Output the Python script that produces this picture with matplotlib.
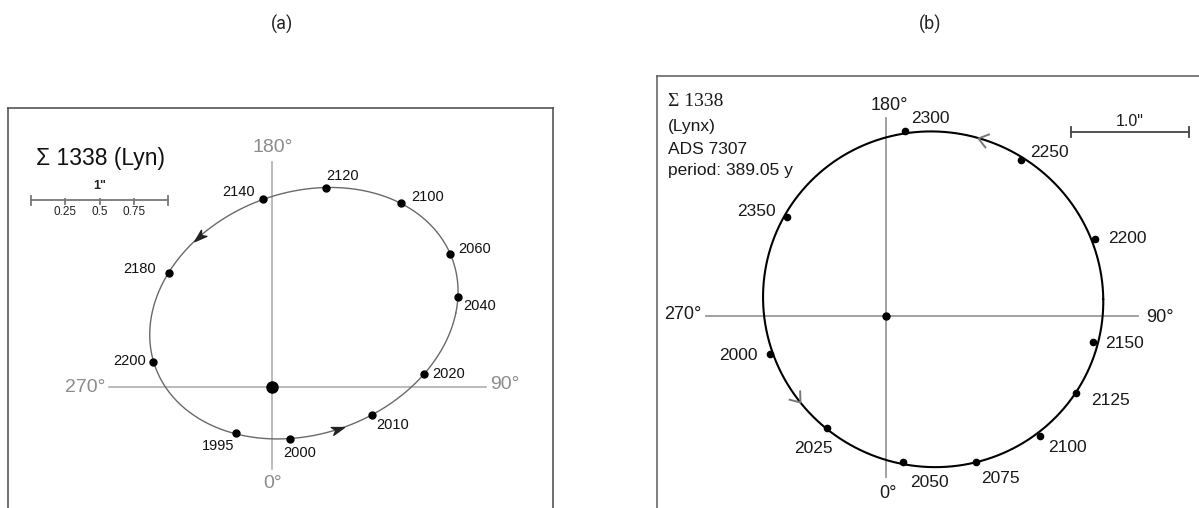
import numpy as np
import matplotlib
matplotlib.use("Agg")
import matplotlib.pyplot as plt
from matplotlib.path import Path
from matplotlib.markers import MarkerStyle
from matplotlib.transforms import Affine2D

# ---------------------------------------------------------------
# Relative positions of the companion (arcsec, +x = 90 deg side,
# +y = 180 deg side) at the labelled epochs.
# ---------------------------------------------------------------
years_a = [1995, 2000, 2010, 2020, 2040, 2060, 2100, 2120, 2140, 2180, 2200]
dx_a = [-0.263, 0.131, 0.730, 1.109, 1.358, 1.299, 0.942, 0.394, -0.066, -0.752, -0.869]
dy_a = [-0.336, -0.380, -0.204, 0.095, 0.657, 0.971, 1.343, 1.453, 1.372, 0.832, 0.182]

years_b = [2000, 2025, 2050, 2075, 2100, 2125, 2150, 2200, 2250, 2300, 2350]
dx_b = [-0.983, -0.500, 0.144, 0.763, 1.305, 1.610, 1.754, 1.771, 1.144, 0.161, -0.839]
dy_b = [-0.322, -0.949, -1.237, -1.237, -1.017, -0.653, -0.220, 0.653, 1.322, 1.568, 0.839]

angle_labels = ["180°", "0°", "270°", "90°"]
title_a = "Σ 1338 (Lyn)"
info_b = ["Σ 1338", "(Lynx)", "ADS 7307", "period: 389.05 y"]
scale_ticks_a = [0.25, 0.5, 0.75]

# label offsets (pixels) from each dot
off_a = [(-18, -13), (10, -14), (21, -10), (25, 0), (22, -9), (25, 5),
         (27, 6), (17, 12), (-24, 7), (-29, 4), (-23, 1)]
off_b = [(-32, -2), (-14, -21), (26, -21), (24, -17), (27, -11), (35, -7),
         (32, -2), (32, 0), (28, 8), (25, 12), (-31, 5)]

SANS = ["Liberation Sans", "DejaVu Sans"]
SERIF = ["Liberation Serif", "DejaVu Serif"]

W, H = 1199, 508
fig = plt.figure(figsize=(W / 100, H / 100), dpi=100)


def px_axes(left, top, right, bottom):
    return fig.add_axes([left / W, 1 - bottom / H, (right - left) / W, (bottom - top) / H])


def fit_orbit(x, y, n=720):
    """Least-squares conic through the positions, sampled counter-clockwise."""
    x = np.asarray(x, float)
    y = np.asarray(y, float)
    D = np.column_stack([x * x, x * y, y * y, x, y, np.ones_like(x)])
    _, _, vt = np.linalg.svd(D)
    A, B, C, Dd, E, F = vt[-1]
    x0, y0 = np.linalg.solve([[2 * A, B], [B, 2 * C]], [-Dd, -E])
    Fc = F + (Dd * x0 + E * y0) / 2
    t = np.linspace(0, 2 * np.pi, n)
    ux, uy = np.cos(t), np.sin(t)
    r = np.sqrt(-Fc / (A * ux * ux + B * ux * uy + C * uy * uy))
    return x0 + r * ux, y0 + r * uy


def arrow_on(ax, xs, ys, near, marker_path, **kw):
    i = int(np.argmin((xs - near[0]) ** 2 + (ys - near[1]) ** 2))
    j0, j1 = (i - 2) % len(xs), (i + 2) % len(xs)
    ang = np.degrees(np.arctan2(ys[j1] - ys[j0], xs[j1] - xs[j0]))
    m = MarkerStyle(marker_path, transform=Affine2D().rotate_deg(ang))
    ax.plot([xs[i]], [ys[i]], marker=m, linestyle="none", **kw)


head = Path([(1.0, 0.0), (-1.0, 0.65), (-0.45, 0.0), (-1.0, -0.65), (1.0, 0.0)],
            [Path.MOVETO, Path.LINETO, Path.LINETO, Path.LINETO, Path.CLOSEPOLY])
chevron = Path([(-1.0, 0.75), (0.0, 0.0), (-1.0, -0.75)],
               [Path.MOVETO, Path.LINETO, Path.LINETO])

# ------------------------------ panel (a) ------------------------------
sa, cxa, cya = 137.0, 272, 387
ax = px_axes(8, 108, 553, 508)
ax.set_xlim((8 - cxa) / sa, (553 - cxa) / sa)
ax.set_ylim((cya - 508) / sa, (cya - 108) / sa)
ax.set_xticks([]); ax.set_yticks([])
for s in ("left", "top", "right"):
    ax.spines[s].set_color("#555555"); ax.spines[s].set_linewidth(1.2)
ax.spines["bottom"].set_visible(False)

ax.plot([0, 0], [-0.599, 1.642], color="#a8a8a8", lw=1.1, zorder=1)
ax.plot([-1.190, 1.562], [0, 0], color="#a8a8a8", lw=1.1, zorder=1)
gray = "#8c8c8c"
ax.text(0.005, 1.745, angle_labels[0], ha="center", va="center", fontsize=14, color=gray, family=SANS)
ax.text(0.005, -0.701, angle_labels[1], ha="center", va="center", fontsize=14, color=gray, family=SANS)
ax.text(-1.360, 0.0, angle_labels[2], ha="center", va="center", fontsize=14, color=gray, family=SANS)
ax.text(1.700, 0.015, angle_labels[3], ha="center", va="center", fontsize=14, color=gray, family=SANS)

xo, yo = fit_orbit(dx_a, dy_a)
ax.plot(xo, yo, color="#6a6a6a", lw=1.0, zorder=2, solid_capstyle="round")
ax.plot(dx_a, dy_a, "o", color="black", ms=5, zorder=3)
ax.plot([0], [0], "o", color="black", ms=8, zorder=3)
for yr, x, y, o in zip(years_a, dx_a, dy_a, off_a):
    ax.annotate(str(yr), (x, y), xytext=o, textcoords="offset pixels",
                ha="center", va="center", fontsize=10.5, family=SANS, color="#111111")
arrow_on(ax, xo, yo, (-0.533, 1.088), head, ms=9, color="#222222", zorder=4)
arrow_on(ax, xo, yo, (0.482, -0.307), head, ms=9, color="#222222", zorder=4)

ax.text((36 - cxa) / sa, (cya - 158) / sa, title_a, ha="left", va="center",
        fontsize=16.5, family=SANS, color="#111111")
# 1" scale bar
by = (cya - 200) / sa
bx0 = (31 - cxa) / sa
tk = 4.5 / sa
ax.plot([bx0, bx0 + 1], [by, by], color="#777777", lw=1.3)
for t in [0, 1]:
    ax.plot([bx0 + t, bx0 + t], [by - tk, by + tk], color="#777777", lw=1.3)
for t in scale_ticks_a:
    ax.plot([bx0 + t, bx0 + t], [by - tk * 0.8, by + tk * 0.2], color="#777777", lw=1.3)
    ax.text(bx0 + t, by - 12 / sa, f"{t:g}", ha="center", va="center", fontsize=8.5,
            family=SANS, color="#222222")
ax.text(bx0 + 0.5, by + 14 / sa, '1"', ha="center", va="center", fontsize=9,
        family=SANS, color="#222222", fontweight="bold")

# ------------------------------ panel (b) ------------------------------
sb, cxb, cyb = 118.0, 886, 316
bx = px_axes(657, 76, 1205, 515)
bx.set_xlim((657 - cxb) / sb, (1205 - cxb) / sb)
bx.set_ylim((cyb - 515) / sb, (cyb - 76) / sb)
bx.set_xticks([]); bx.set_yticks([])
for s in ("left", "top"):
    bx.spines[s].set_color("#666666"); bx.spines[s].set_linewidth(1.2)
bx.spines["right"].set_visible(False); bx.spines["bottom"].set_visible(False)

bx.plot([0, 0], [-1.364, 1.678], color="#9a9a9a", lw=1.3, zorder=1)
bx.plot([-1.525, 2.136], [0, 0], color="#9a9a9a", lw=1.3, zorder=1)
dark = "#1a1a1a"
bx.text(3 / sb, (cyb - 105) / sb, angle_labels[0], ha="center", va="center", fontsize=13, color=dark, family=SANS)
bx.text(2 / sb, (cyb - 494) / sb, angle_labels[1], ha="center", va="center", fontsize=13, color=dark, family=SANS)
bx.text((683 - cxb) / sb, 0.01, angle_labels[2], ha="center", va="center", fontsize=13, color=dark, family=SANS)
bx.text((1160 - cxb) / sb, -0.01, angle_labels[3], ha="center", va="center", fontsize=13, color=dark, family=SANS)

xo, yo = fit_orbit(dx_b, dy_b)
bx.plot(xo, yo, color="black", lw=1.5, zorder=2, solid_capstyle="round")
bx.plot(dx_b, dy_b, "o", color="black", ms=4.5, zorder=3)
bx.plot([0], [0], "o", color="black", ms=5, zorder=3)
for yr, x, y, o in zip(years_b, dx_b, dy_b, off_b):
    bx.annotate(str(yr), (x, y), xytext=o, textcoords="offset pixels",
                ha="center", va="center", fontsize=12.5, family=SANS, color=dark)
arrow_on(bx, xo, yo, (0.771, 1.492), chevron, ms=14, color="#777777",
         mfc="none", mew=1.4, zorder=4)
arrow_on(bx, xo, yo, (-0.763, -0.754), chevron, ms=14, color="#777777",
         mfc="none", mew=1.4, zorder=4)

tx = (668 - cxb) / sb
for k, (line, py) in enumerate(zip(info_b, [101, 126, 149, 171])):
    bx.text(tx, (cyb - py) / sb, line, ha="left", va="center",
            fontsize=14 if k == 0 else 12.5,
            family=SERIF if k == 0 else SANS, color=dark)
# 1.0" scale bar
sy_b = (cyb - 132) / sb
sx0 = (1071 - cxb) / sb
tkb = 5 / sb
bx.plot([sx0, sx0 + 1.0], [sy_b, sy_b], color="#444444", lw=1.3)
for t in [0, 1.0]:
    bx.plot([sx0 + t, sx0 + t], [sy_b - tkb, sy_b + tkb], color="#444444", lw=1.3)
bx.text(sx0 + 0.5, sy_b + 11 / sb, '1.0"', ha="center", va="center", fontsize=11.5,
        family=SANS, color=dark)

# panel letters
fig.text(282 / W, 1 - 24 / H, "(a)", ha="center", va="center", fontsize=13,
         family=["Liberation Sans Narrow", "Roboto", "DejaVu Sans"], color="#222222")
fig.text(930 / W, 1 - 24 / H, "(b)", ha="center", va="center", fontsize=13,
         family=["Liberation Sans Narrow", "Roboto", "DejaVu Sans"], color="#222222")

fig.savefig("out.png", dpi=100, facecolor="white")
